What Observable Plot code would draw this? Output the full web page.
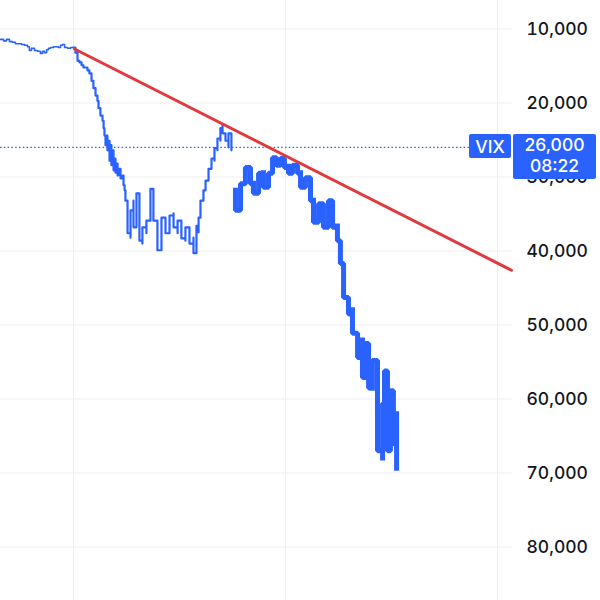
<!DOCTYPE html>
<html><head><meta charset="utf-8">
<script src="https://cdn.jsdelivr.net/npm/d3@7"></script>
<script src="https://cdn.jsdelivr.net/npm/@observablehq/plot@0.6"></script>
<style>html,body{margin:0;padding:0;background:#fff} svg{display:block}</style>
</head><body><div id="chart"></div>
<script>
// ---- Data (values in thousands; time in days, gridlines every 100) ----
const leadT = [-34.4,-33.0,-31.6,-30.2,-28.8,-27.4,-25.9,-24.5,-23.1,-21.7,-20.8,-19.8,-18.4,-17.0,-15.6,-14.6,-13.7,-12.7,-11.8,-10.8,-9.4,-8.0,-7.1,-6.1,-5.2,-4.2,-2.8,-1.4,0,
  0.9,1.9,2.8,3.8,4.7,5.7,6.6,7.5,8.5,9.4,10.4,11.3,11.8,12.7,13.7,14.2,14.6,15.1,15.6,16.0,16.5,17.0,17.5,17.9,18.4,18.9,19.3,19.8,20.3,20.8,21.2,22.2,23.1,23.6,24.1,24.5];
const leadV = [11.4,11.6,11.4,11.7,11.8,12.0,12.0,12.1,12.2,12.4,12.9,12.6,12.9,13.0,13.3,13.0,13.2,12.8,12.6,12.5,12.4,12.4,12.5,12.2,12.1,12.5,12.6,12.5,12.5,
  13.2,14.3,14.5,14.9,15.2,15.2,15.6,16.0,17.0,18.0,19.0,19.7,20.7,21.7,22.4,23.4,24.4,25.7,24.4,26.4,25.1,27.8,25.7,28.4,26.4,29.1,27.5,29.4,28.2,29.8,28.9,30.2,29.8,31.1,31.8,33.2];

const troughT   = [25.5,26.9,28.3,29.7,31.1,32.5,34.4,36.3,37.7,39.6,41.5,43.4,45.3,47.2,49.1,50.9,52.8,54.7,56.6,58.0,59.0,59.9,61.3,62.3,63.7,65.1,66.5,67.9,69.3,70.3,71.7,73.1,74.5];
const troughTop = [33.9,34.5,33.2,32.2,35.5,36.8,35.9,31.6,34.5,35.9,35.5,35.9,35.2,34.9,35.9,36.6,36.8,36.8,38.2,36.6,35.5,33.2,31.8,30.5,28.9,27.5,26.1,24.8,23.4,23.0,24.4,24.1,25.5];
const troughBot = [37.6,38.2,36.8,35.9,38.6,39.0,37.6,35.5,35.9,39.9,36.8,37.6,37.2,36.8,37.6,38.3,38.6,39.0,40.3,39.3,37.5,35.2,33.2,31.8,30.2,28.9,27.8,26.4,25.1,24.1,25.1,26.0,26.4];

const crashT   = [76.4,78.8,81.1,83.5,84.9,87.3,89.6,92.0,93.9,95.8,97.6,99.5,101.4,103.3,105.7,107.1,109.4,111.8,113.2,115.6,117.9,120.3,122.2,124.5,125.9,127.4,129.7,131.6,134.0,136.3,137.7,139.2,141.0,143.4,145.8,146.7,148.1,149.5,150.9,152.4];
const crashTop = [31.8,30.9,28.7,30.1,30.5,29.5,29.1,29.5,27.4,27.8,27.5,27.8,28.2,28.4,28.4,29.1,30.1,30.1,32.8,33.6,34.9,33.2,34.5,36.3,39.0,42.2,46.3,47.6,51.7,51.7,52.5,53.9,54.8,57.1,60.6,56.2,62.9,58.9,62.5,62.0];
const crashBot = [34.5,32.2,30.5,30.9,32.2,31.4,31.4,30.5,28.7,28.4,28.2,28.7,29.5,29.4,29.5,31.4,30.9,33.2,36.1,35.9,36.8,35.5,36.8,38.6,41.7,46.3,48.5,51.1,54.4,57.1,55.2,58.5,58.9,67.0,68.3,63.3,67.0,67.0,66.0,69.7];

const trendT = [0.5, 206.6];
const trendV = [12.7, 42.6];

const symbol = "VIX";
const lastValue = 26000;
const lastTime = "08:22";
const yTicks = [10000,20000,30000,40000,50000,60000,70000,80000];
const xGridTicks = [0, 100, 200];

// ---- Build tables ----
const K = 1000;
const leadAll = leadT.map((t,i)=>({t, v: leadV[i]*K}));
const lead1 = leadAll.filter(d=>d.t<=0);
function barPath(ts, tops, bots, start) {
  const out = []; let last = start;
  ts.forEach((t,i)=>{
    const a = tops[i]*K, b = bots[i]*K;
    const first = (last==null || Math.abs(last-a) <= Math.abs(last-b)) ? a : b;
    const second = first===a ? b : a;
    out.push({t, v:first}, {t, v:second});
    last = second;
  });
  return out;
}
const lead2 = leadAll.filter(d=>d.t>=0);
const trough = lead2.concat(barPath(troughT, troughTop, troughBot, lead2[lead2.length-1].v));
const crash = barPath(crashT, crashTop, crashBot, null);
const trend = trendT.map((t,i)=>({t, v: trendV[i]*K}));

const blue = "#2962ff";
const font = "Inter, 'Open Sans', sans-serif";
const chart = Plot.plot({
  width: 600, height: 600,
  marginLeft: 0, marginRight: 88, marginTop: 0, marginBottom: 0,
  style: {fontFamily: font, background: "#fff"},
  x: {domain: [-34.43, 207.08], axis: null},
  y: {domain: [6149, 87230], reverse: true, axis: null},
  marks: [
    Plot.gridY(yTicks, {stroke: "#eeeeee", strokeOpacity: 1}),
    Plot.gridX(xGridTicks, {stroke: "#eeeeee", strokeOpacity: 1}),
    Plot.ruleY([lastValue], {stroke: blue, strokeWidth: 1.4, strokeDasharray: "1.5,2.3"}),
    Plot.line(lead1, {x: "t", y: "v", stroke: blue, strokeWidth: 1.6, curve: "step-after"}),
    Plot.line(trough, {x: "t", y: "v", stroke: blue, strokeWidth: 2.2, curve: "step-after"}),
    Plot.line(crash, {x: "t", y: "v", stroke: blue, strokeWidth: 5, curve: "step-after", strokeLinejoin: "miter", strokeLinecap: "square"}),
    Plot.line(trend, {x: "t", y: "v", stroke: "#e0393e", strokeWidth: 3}),
    Plot.axisY(yTicks, {anchor: "right", tickSize: 0, tickPadding: 14, fontSize: 17.5, fontWeight: 500, fill: "#131722", tickFormat: d3.format(","), label: null})
  ]
});
document.getElementById("chart").appendChild(chart);

// ---- Last-value labels ----
const svg = d3.select(chart);
const yPos = chart.scale("y").apply(lastValue);
const g = svg.append("g").attr("font-family", font).attr("font-size", 17.5).attr("font-weight", 500).attr("fill", "#fff");
g.append("rect").attr("x", 469).attr("y", yPos-13).attr("width", 42).attr("height", 24).attr("rx", 2).attr("fill", blue);
g.append("text").attr("x", 490).attr("y", yPos+6).attr("text-anchor", "middle").text(symbol);
g.append("rect").attr("x", 513).attr("y", yPos-13).attr("width", 83).attr("height", 45).attr("rx", 2).attr("fill", blue);
g.append("text").attr("x", 554.5).attr("y", yPos+4).attr("text-anchor", "middle").text(d3.format(",")(lastValue));
g.append("text").attr("x", 554.5).attr("y", yPos+25).attr("text-anchor", "middle").text(lastTime);
</script>
</body></html>
